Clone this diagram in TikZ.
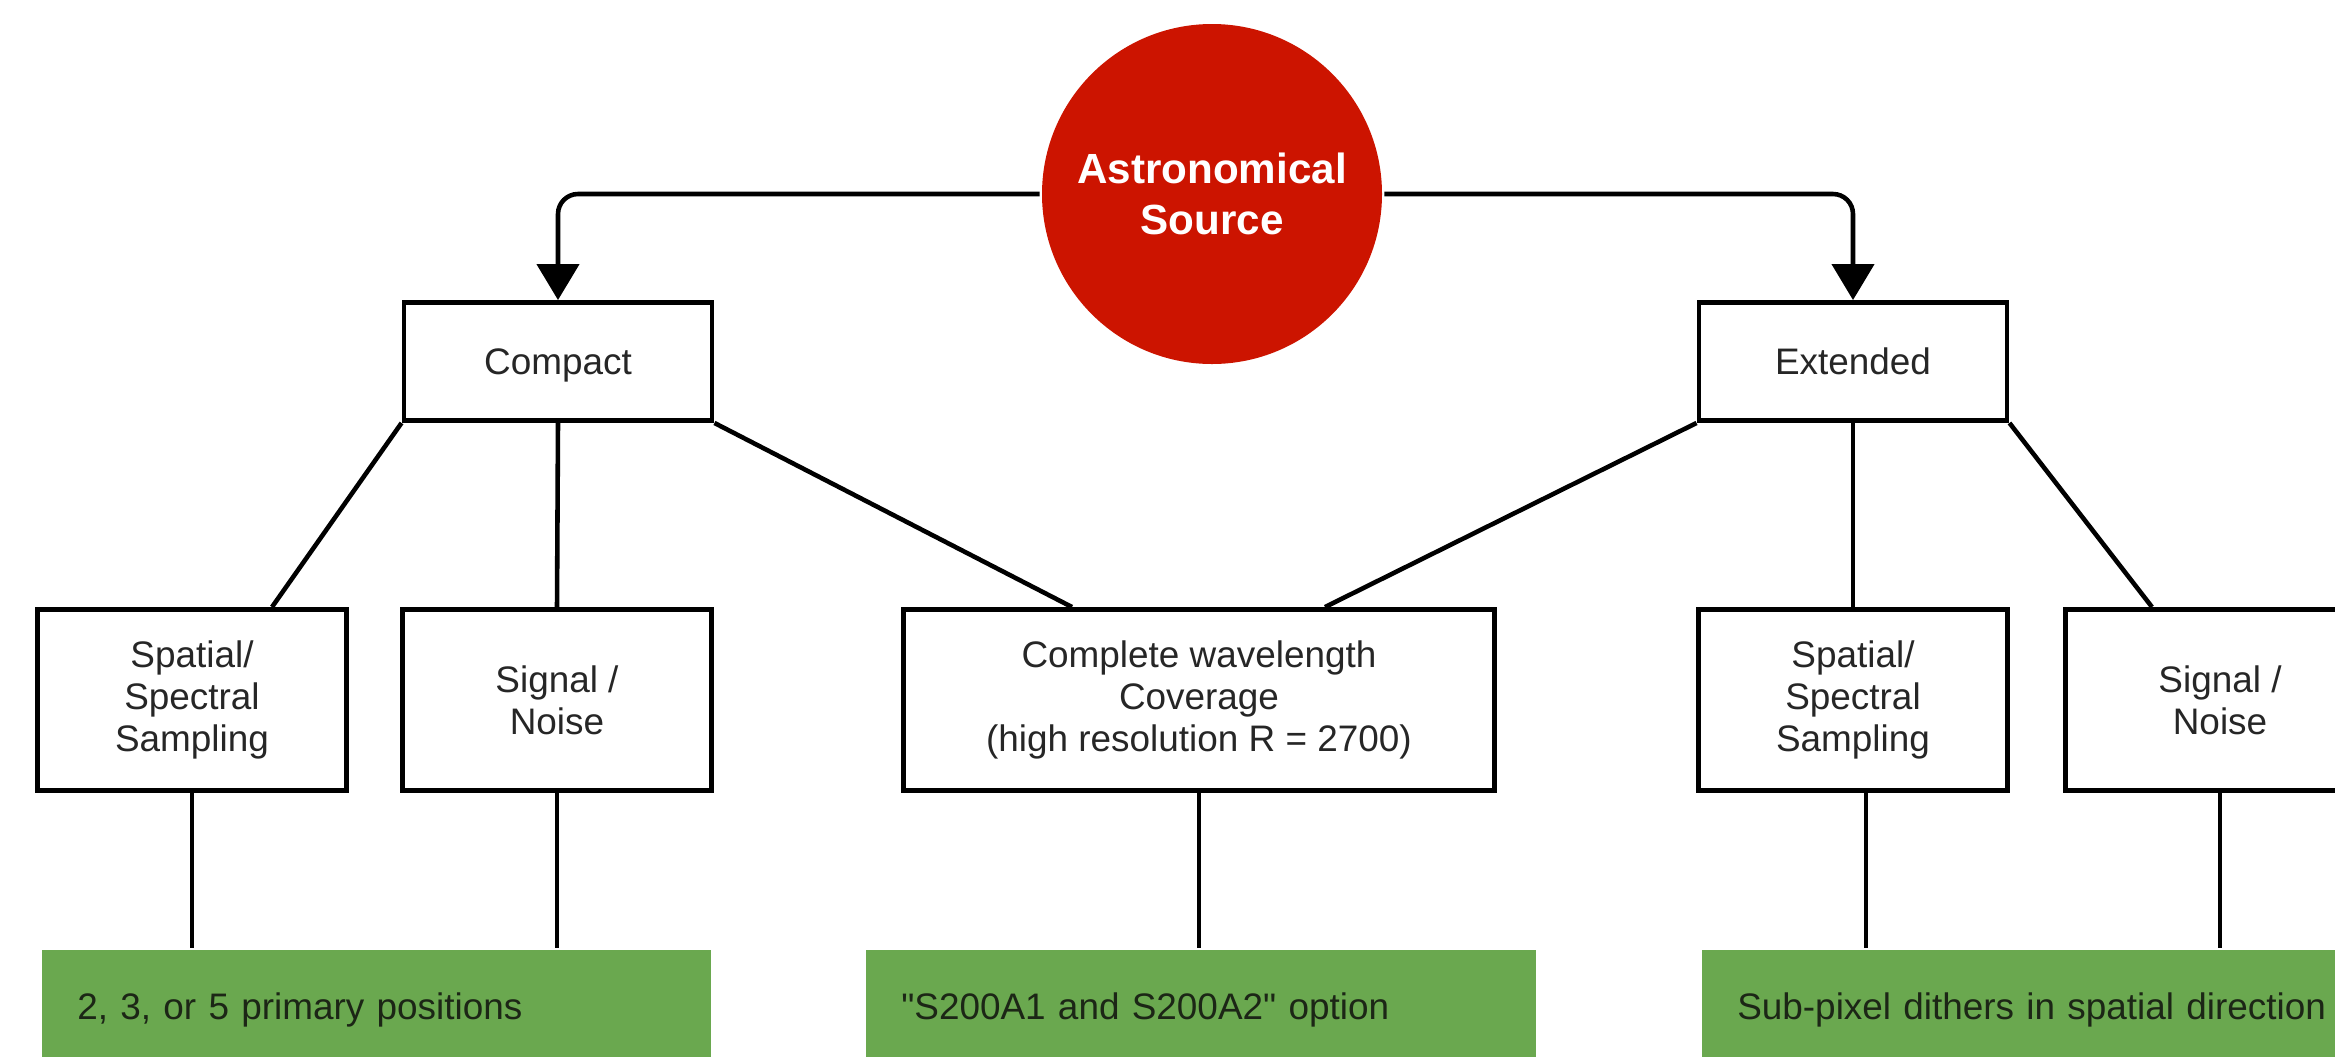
\documentclass[tikz,border=0pt]{standalone}
\usepackage{fontspec}
\setmainfont{Liberation Sans}[Ligatures=TeXOff]
\usetikzlibrary{arrows.meta}
\definecolor{srcred}{RGB}{204,20,0}
\definecolor{optgreen}{RGB}{106,168,79}
\definecolor{opttext}{RGB}{28,38,22}

\begin{document}
\begin{tikzpicture}[>={Triangle[length=3.6mm,width=4.2mm]}, line width=1.3pt,
  box/.style={draw, line width=1.4pt, align=center, inner sep=0pt, text=black!85,
    font=\fontsize{10.5}{11.9}\selectfont},
  top/.style={box, minimum width=3.08cm, minimum height=1.18cm, text depth=0pt},
  leaf/.style={box, minimum width=3.09cm, minimum height=1.81cm},
  opt/.style={fill=optgreen, anchor=north west, align=left, inner xsep=0.35cm, inner ysep=0pt,
    minimum height=1.2cm, text=opttext, font=\fontsize{10.5}{11.9}\selectfont},
  src/.style={circle, fill=srcred, minimum size=3.4cm, inner sep=0pt, align=center,
    text=white, font=\fontsize{12}{14.7}\selectfont\bfseries}]
\useasboundingbox (0,0) rectangle (23.35,-10.56);
\clip (0,0) rectangle (23.35,-10.56);

% source and its two kinds
\node[src] (src) at (12.12,-1.94) {Astronomical\\Source};
\node[top] (compact) at (5.58,-3.615) {Compact};
\node[top] (extended) at (18.53,-3.615) {Extended};

% what matters for each
\node[leaf] (sampC) at (1.92,-7.00) {Spatial/\\Spectral\\Sampling};
\node[leaf] (snC) at (5.57,-7.00) {Signal /\\Noise};
\node[box, minimum width=5.91cm, minimum height=1.81cm] (cover) at (11.99,-7.00)
  {Complete wavelength\\Coverage\\(high resolution R = 2700)};
\node[leaf] (sampE) at (18.53,-7.00) {Spatial/\\Spectral\\Sampling};
\node[leaf] (snE) at (22.20,-7.00) {Signal /\\Noise};

% observing options
\node[opt, text width=5.99cm] (optC) at (0.40,-9.48) {2, 3, or 5 primary positions};
\node[opt, text width=6.00cm] (optM) at (8.64,-9.48) {"S200A1 and S200A2" option};
\node[opt, text width=6.10cm] (optE) at (17.00,-9.48) {Sub-pixel dithers in spatial direction};

\draw[->, rounded corners=0.2cm] (src.west) -| (compact.north);
\draw[->, rounded corners=0.2cm] (src.east) -| (extended.north);

\draw (compact.south west) -- ([xshift=8mm]sampC.north);
\draw (compact.south) -- (snC.north);
\draw (compact.south east) -- ([xshift=-12.7mm]cover.north);
\draw (extended.south west) -- ([xshift=12.6mm]cover.north);
\draw (extended.south) -- (sampE.north);
\draw (extended.south east) -- ([xshift=-6.8mm]snE.north);

\draw (sampC.south) -- (sampC.south |- optC.north);
\draw (snC.south) -- (snC.south |- optC.north);
\draw (cover.south) -- (cover.south |- optM.north);
\draw ([xshift=1.3mm]sampE.south) -- ([xshift=1.3mm]sampE.south |- optE.north);
\draw (snE.south) -- (snE.south |- optE.north);
\end{tikzpicture}
\end{document}
